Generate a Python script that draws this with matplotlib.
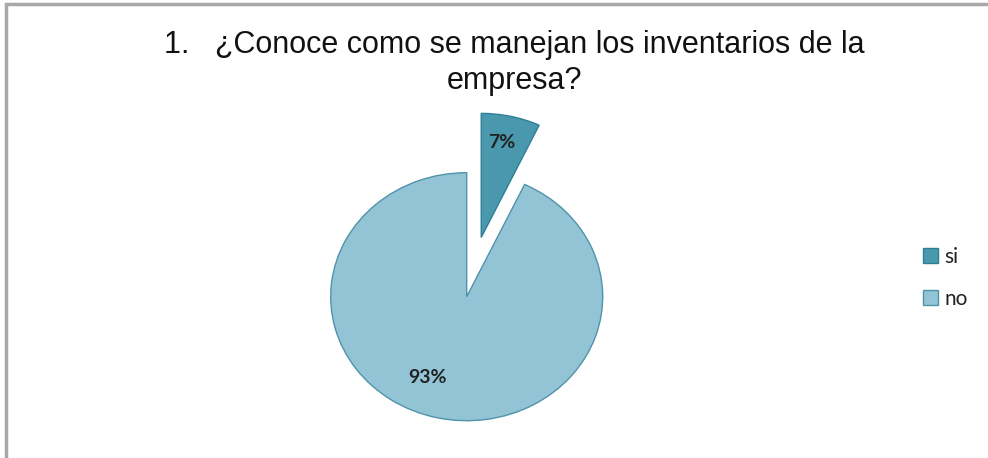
import matplotlib.pyplot as plt
from matplotlib.patches import Rectangle

labels = ["si", "no"]
values = [7, 93]
colors = ["#4A98AE", "#93C4D5"]
edges = ["#2F7F96", "#4F93AA"]
title = "1.   ¿Conoce como se manejan los inventarios de la\nempresa?"

W, H = 988, 458
fig = plt.figure(figsize=(W / 100, H / 100), dpi=100)

# pie centre and radii in pixels (slightly squashed vertically)
cx, cy = 466.7, H - 296.7
rx, ry = 136.0, 124.0
ax = fig.add_axes([0, 0, 1, 1])
wedges, texts, autotexts = ax.pie(
    values, colors=colors, startangle=90, counterclock=False,
    explode=[0.49, 0], autopct="%1.0f%%", pctdistance=0.75,
    wedgeprops=dict(linewidth=1.0),
    textprops=dict(family="Lato", fontsize=14, fontweight="bold",
                   color="#222222"),
)
for w, ec in zip(wedges, edges):
    w.set_edgecolor(ec)
ax.set_aspect("auto")
ax.set_xlim(-cx / rx, (W - cx) / rx)
ax.set_ylim(-cy / ry, (H - cy) / ry)
ax.axis("off")

# percentage labels placement
autotexts[0].set_position((0.26, 1.243))
autotexts[1].set_position((-0.288, -0.652))

fig.text(514 / W, 1 - 63 / H, title, ha="center", va="center",
         family="Liberation Sans", fontsize=22, color="#111111",
         linespacing=1.25)

handles = [Rectangle((0, 0), 1, 1, facecolor=c, edgecolor=e, linewidth=1)
           for c, e in zip(colors, edges)]
fig.legend(handles, labels, loc="center left",
           bbox_to_anchor=(904 / W, 1 - 278 / H), frameon=False,
           prop=dict(family="Lato", size=15), handlelength=0.75,
           handleheight=0.75, handletextpad=0.3, labelspacing=1.05,
           labelcolor="#222222")

# outer frame of the chart area
fig.patches.append(Rectangle((6 / W, -0.02), 1.1, 1 - 4 / H + 0.02,
                             transform=fig.transFigure, fill=False,
                             edgecolor="#A8A8A8", linewidth=2.5))

fig.savefig("out.png", dpi=100, facecolor="white")
